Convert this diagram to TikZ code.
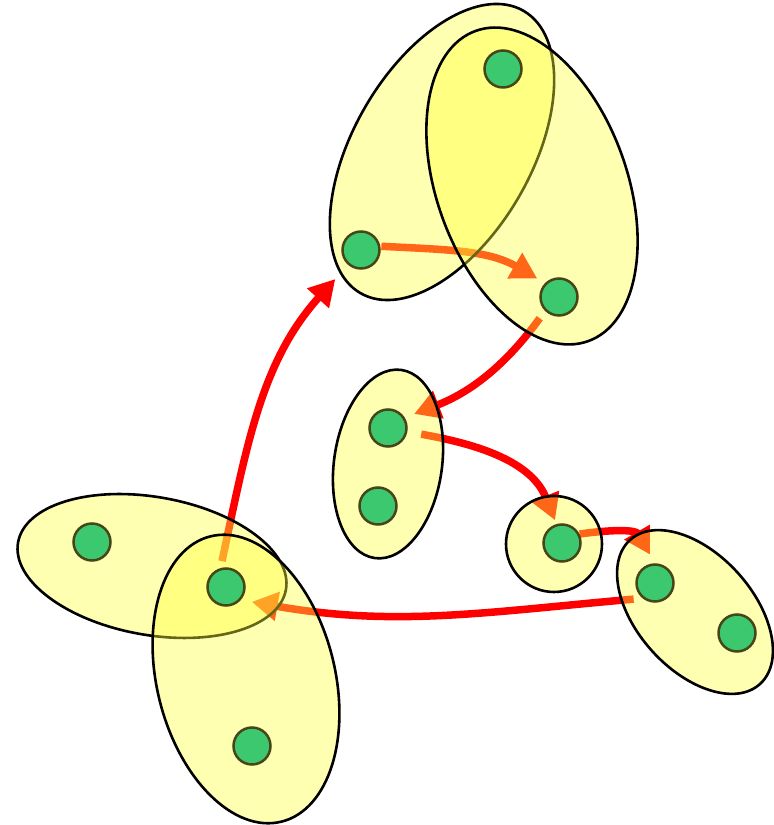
\documentclass[tikz,border=0pt]{standalone}
\usepackage{xcolor}
\usepackage{tikz}
\usetikzlibrary{arrows.meta,shapes.geometric}

\definecolor{setfill}{RGB}{255,255,60}
\definecolor{vertgreen}{RGB}{60,200,110}
\definecolor{vertrim}{RGB}{70,70,25}
\pgfdeclarelayer{links}
\pgfdeclarelayer{sets}
\pgfsetlayers{links,sets,main}

\begin{document}
\begin{tikzpicture}[
  x=1pt, y=1pt,
  vert/.style={circle, draw=vertrim, line width=2.5pt, fill=vertgreen,
               minimum size=37pt, inner sep=0pt},
  hedge/.style={ellipse, draw=black, line width=2.6pt, fill=setfill,
                fill opacity=0.4, inner sep=0pt},
  arr/.style={-{Triangle[length=26pt,width=28pt]}, red, line width=7.5pt}]
\useasboundingbox (0,0) rectangle (774,825);
% vertices
\node[vert] (a) at (503,756) {};
\node[vert] (b) at (361,575) {};
\node[vert] (c) at (559,528) {};
\node[vert] (d) at (388,397) {};
\node[vert] (e) at (378,319) {};
\node[vert] (f) at (562,282) {};
\node[vert] (g) at (655,242) {};
\node[vert] (h) at (737,192) {};
\node[vert] (i) at (92,283) {};
\node[vert] (j) at (226,238) {};
\node[vert] (k) at (252,79) {};
% hyperedges
\begin{pgfonlayer}{sets}
\node[hedge, minimum width=326pt, minimum height=178pt, rotate=60] (ab) at (442,673) {};
\node[hedge, minimum width=330pt, minimum height=190pt, rotate=110] (ac) at (532,639) {};
\node[hedge, minimum width=190pt, minimum height=108pt, rotate=82] (de) at (388,361) {};
\node[hedge, minimum width=96pt, minimum height=96pt] (ff) at (554,281) {};
\node[hedge, minimum width=194pt, minimum height=116pt, rotate=-48] (gh) at (695,213) {};
\node[hedge, minimum width=272pt, minimum height=138pt, rotate=-10] (ij) at (152,259) {};
\node[hedge, minimum width=294pt, minimum height=178pt, rotate=104] (jk) at (246,146) {};
\end{pgfonlayer}
% walk
\begin{pgfonlayer}{links}
\draw[arr, shorten <=7pt, shorten >=19pt] (j.106) to[out=78, in=228] (b.229);
\draw[arr, shorten <=1pt, shorten >=9pt] (b.11) to[out=-3, in=150] (c.135);
\draw[arr, shorten <=9pt, shorten >=10pt] (c.225) to[out=234, in=21] (d.32);
\draw[arr, shorten <=14pt, shorten >=4pt] (d.-11) to[out=-10, in=112] (f.106);
\draw[arr, shorten >=10pt] (f.27) to[out=8, in=120, looseness=1.2] (g.90);
\draw[arr, shorten <=9pt, shorten >=11pt] (g.231) to[out=185, in=-10] (j.-41);
\end{pgfonlayer}
\end{tikzpicture}
\end{document}
